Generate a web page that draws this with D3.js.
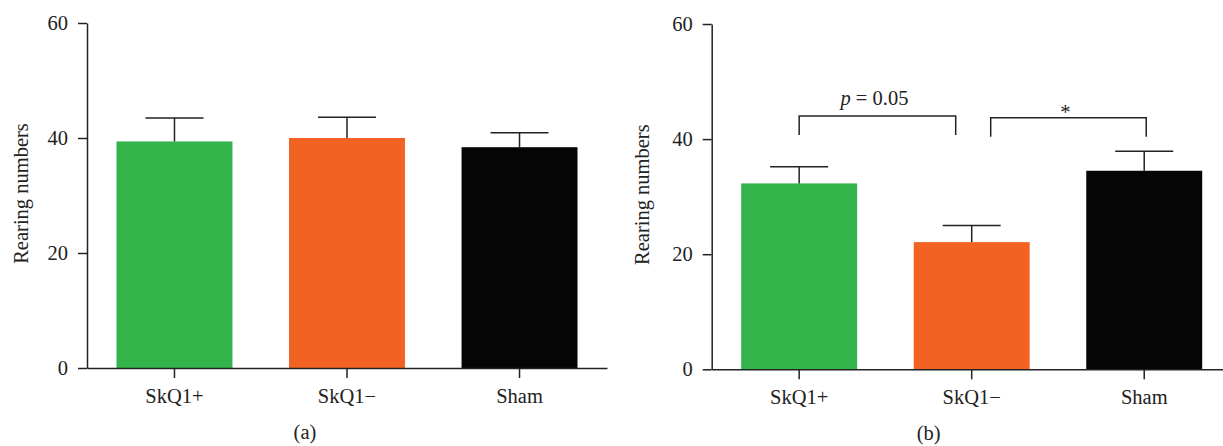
<!DOCTYPE html>
<html lang="en">
<head>
  <meta charset="utf-8">
  <title>Rearing numbers</title>
  <script src="https://d3js.org/d3.v7.min.js"></script>
  <style>
    body { margin: 0; background: #fff; }
    svg text { font-family: "Liberation Serif", "Times New Roman", serif; fill: #222; }
    .axis path, .axis line { stroke: #222; stroke-width: 1.5px; }
    .axis text { font-size: 20.5px; }
  </style>
</head>
<body>
<svg width="1223" height="446"></svg>

<script>
  var categories = ["SkQ1+", "SkQ1\u2212", "Sham"];
  var colors = ["#33b44a", "#f26323", "#050505"];
  var yTicks = [0, 20, 40, 60];

  var meansA = [39.4, 40.0, 38.4];
  var errorsA = [4.1, 3.6, 2.5];

  var meansB = [32.3, 22.1, 34.5];
  var errorsB = [2.9, 2.9, 3.4];

  // significance brackets for panel (b)
  var bracketsB = [
    {from: 0, to: 1, label: "p", rest: " = 0.05", top: 44.0, foot: 40.7},
    {from: 1, to: 2, label: "*", rest: "", top: 43.7, foot: 40.4}
  ];

  var svg = d3.select("svg");
  var plotW = 520, barPadIn = 0.328, barPadOut = 0.171;
  var fs = "20.5px";

  function drawPanel(opts) {
    var g = svg.append("g")
        .attr("transform", "translate(" + opts.left + "," + opts.top + ")");
    var h = opts.height;

    var x = d3.scaleBand()
        .domain(categories)
        .range([0, plotW])
        .paddingInner(barPadIn)
        .paddingOuter(barPadOut);

    var y = d3.scaleLinear()
        .domain([0, 60])
        .range([h, 0]);

    g.selectAll(".bar")
        .data(opts.means)
        .enter().append("rect")
        .attr("class", "bar")
        .attr("x", function(d, i) { return x(categories[i]); })
        .attr("y", function(d) { return y(d); })
        .attr("width", x.bandwidth())
        .attr("height", function(d) { return h - y(d); })
        .attr("fill", function(d, i) { return colors[i]; });

    // error bars (upper only)
    var eb = g.selectAll(".err")
        .data(opts.means)
        .enter().append("g")
        .attr("class", "err")
        .attr("transform", function(d, i) {
          return "translate(" + (x(categories[i]) + x.bandwidth() / 2) + ",0)";
        });
    eb.append("line")
        .attr("y1", function(d) { return y(d); })
        .attr("y2", function(d, i) { return y(d + opts.errors[i]); })
        .attr("stroke", "#222").attr("stroke-width", 1.5);
    eb.append("line")
        .attr("x1", -29).attr("x2", 29)
        .attr("y1", function(d, i) { return y(d + opts.errors[i]); })
        .attr("y2", function(d, i) { return y(d + opts.errors[i]); })
        .attr("stroke", "#222").attr("stroke-width", 1.5);

    g.append("g")
        .attr("class", "axis")
        .call(d3.axisLeft(y).tickValues(yTicks).tickSize(9).tickSizeOuter(0).tickPadding(10));

    g.append("g")
        .attr("class", "axis")
        .attr("transform", "translate(0," + h + ")")
        .call(d3.axisBottom(x).tickSize(10).tickSizeOuter(0).tickPadding(10.5));

    g.append("text")
        .attr("transform", "translate(" + opts.ylabX + "," + (h / 2 - 2) + ") rotate(-90)")
        .attr("text-anchor", "middle")
        .style("font-size", fs)
        .text("Rearing numbers");

    g.append("text")
        .attr("x", opts.tagX)
        .attr("y", h + 71)
        .attr("text-anchor", "middle")
        .style("font-size", fs)
        .text(opts.tag);

    return {g: g, x: x, y: y};
  }

  drawPanel({left: 87, top: 23, height: 345, means: meansA, errors: errorsA,
             ylabX: -59, tagX: 218, tag: "(a)"});

  var pb = drawPanel({left: 711.7, top: 24, height: 345.3, means: meansB, errors: errorsB,
                      ylabX: -63, tagX: 217, tag: "(b)"});

  var legOffsets = [[0, -16], [19, 2]];
  bracketsB.forEach(function(b, k) {
    var cx = function(i) { return pb.x(categories[i]) + pb.x.bandwidth() / 2; };
    var x1 = cx(b.from) + legOffsets[k][0], x2 = cx(b.to) + legOffsets[k][1];
    var yt = pb.y(b.top), yf = pb.y(b.foot);
    pb.g.append("path")
        .attr("d", "M" + x1 + "," + yf + "V" + yt + "H" + x2 + "V" + yf)
        .attr("fill", "none").attr("stroke", "#222").attr("stroke-width", 1.5);
    var t = pb.g.append("text")
        .attr("x", (x1 + x2) / 2 - 3)
        .attr("y", b.rest ? yt - 11 : yt + 1)
        .attr("text-anchor", "middle")
        .style("font-size", fs);
    t.append("tspan").style("font-style", b.rest ? "italic" : "normal").text(b.label);
    if (b.rest) t.append("tspan").text(b.rest);
  });
</script>
</body>
</html>
